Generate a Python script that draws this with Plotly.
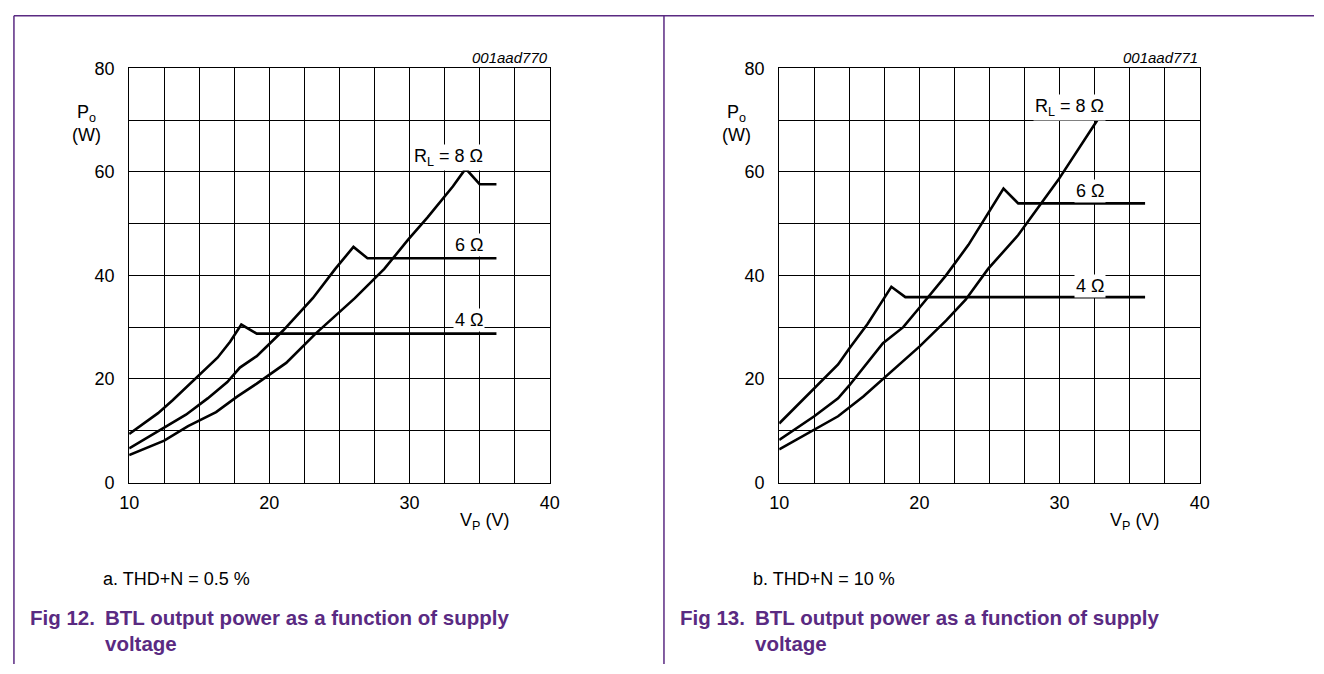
import plotly.graph_objects as go

# ---------------- data ----------------
# Fig 12: THD+N = 0.5 %
v4a = [10, 12.06, 13.1, 14.6, 16.3, 17.2, 18.0, 19.1, 36.2]
p4a = [9.4, 13.4, 15.9, 19.7, 24.1, 27.2, 30.5, 28.75, 28.75]
v6a = [10, 12.5, 14.05, 15.6, 17.0, 17.9, 19.1, 21.0, 23.1, 24.7, 26.0, 27.0, 36.2]
p6a = [6.6, 10.6, 13.1, 16.25, 19.4, 22.2, 24.4, 29.4, 35.6, 41.25, 45.5, 43.3, 43.3]
v8a = [10, 12.5, 14.2, 16.2, 17.7, 19.1, 21.2, 23.3, 26.1, 28.2, 29.9, 31.3, 33.1, 34.0, 35.0, 36.2]
p8a = [5.3, 8.1, 10.9, 13.6, 16.6, 19.1, 23.1, 28.75, 35.6, 41.25, 46.9, 51.25, 57.2, 60.6, 57.6, 57.6]

# Fig 13: THD+N = 10 %
v4b = [10, 12.5, 14.2, 15.0, 16.3, 17.2, 18.0, 19.0, 36.1]
p4b = [11.4, 18.1, 22.8, 25.9, 30.6, 34.4, 37.8, 35.8, 35.8]
v6b = [10, 12.5, 14.2, 15.0, 17.4, 18.85, 20.0, 21.9, 23.5, 24.9, 26.0, 27.05, 36.1]
p6b = [8.25, 12.8, 16.25, 18.75, 26.9, 30.0, 33.75, 40.0, 45.9, 51.9, 56.75, 53.9, 53.9]
v8b = [10, 12.5, 14.2, 16.0, 17.4, 20.0, 21.9, 23.3, 24.9, 27.05, 29.9, 32.7]
p8b = [6.4, 10.3, 12.8, 16.6, 20.0, 26.25, 31.25, 35.3, 41.25, 47.8, 58.4, 70.0]

x_ticks = [10, 20, 30, 40]
x_text = ["10", "20", "30", "40"]
x_minor_step = 2.5
y_ticks = [0, 20, 40, 60, 80]
y_text = ["0", "20", "40", "60", "80"]
y_minor_step = 10

codes = ["001aad770", "001aad771"]
subcaps = ["a. THD+N = 0.5 %", "b. THD+N = 10 %"]
fignums = ["Fig 12.", "Fig 13."]
figtitle = "BTL output power as a function of supply"
figtitle2 = "voltage"
lbl_a = [(35.37, 62.8, "R<sub>L</sub> = 8 Ω"), (35.37, 45.9, "6 Ω"), (35.37, 31.3, "4 Ω")]
lbl_b = [(33.33, 72.5, "R<sub>L</sub> = 8 Ω"), (33.33, 56.2, "6 Ω"), (33.33, 38.0, "4 Ω")]

# ---------------- layout constants ----------------
W, H = 1324, 674
FONT = "Liberation Sans, Arial, Helvetica, sans-serif"
PURPLE = "#5a2a82"
plot_left = [121, 781]
plot_w = 427
plot_top, plot_bot = 60, 487

def px(x):
    return x / W

def py(y):
    return 1 - y / H

fig = go.Figure()

series = [(v4a, p4a, v6a, p6a, v8a, p8a), (v4b, p4b, v6b, p6b, v8b, p8b)]
for i, s in enumerate(series):
    xa = "x" if i == 0 else "x2"
    ya = "y" if i == 0 else "y2"
    for k in range(3):
        fig.add_trace(go.Scatter(x=s[2 * k], y=s[2 * k + 1], mode="lines",
                                 line=dict(color="black", width=2.6),
                                 xaxis=xa, yaxis=ya, showlegend=False,
                                 hoverinfo="skip"))

axis_common = dict(showgrid=True, gridcolor="black", gridwidth=1,
                   showline=True, linecolor="black", linewidth=1, mirror=True,
                   zeroline=False, ticks="", fixedrange=True,
                   tickfont=dict(family=FONT, size=18, color="black"))

for i in range(2):
    xk = "xaxis" if i == 0 else "xaxis2"
    yk = "yaxis" if i == 0 else "yaxis2"
    xl = plot_left[i]
    fig.update_layout(**{
        xk: dict(axis_common, domain=[px(xl), px(xl + plot_w)], range=[10, 40],
                 tickmode="array", tickvals=x_ticks, ticktext=x_text,
                 minor=dict(tickmode="linear", tick0=10, dtick=x_minor_step,
                            showgrid=True, gridcolor="black", gridwidth=1, ticks=""),
                 anchor="y" if i == 0 else "y2", ticklabelstandoff=4),
        yk: dict(axis_common, domain=[py(plot_bot), py(plot_top)], range=[0, 80],
                 tickmode="array", tickvals=y_ticks, ticktext=y_text,
                 minor=dict(tickmode="linear", tick0=0, dtick=y_minor_step,
                            showgrid=True, gridcolor="black", gridwidth=1, ticks=""),
                 anchor="x" if i == 0 else "x2", ticklabelstandoff=10),
    })

annotations = []
shapes = []
for i in range(2):
    xl = plot_left[i]
    xr = "x" if i == 0 else "x2"
    yr = "y" if i == 0 else "y2"
    # code label
    annotations.append(dict(x=px(xl + plot_w), y=py(49), xref="paper", yref="paper",
                            text="<i>" + codes[i] + "</i>", showarrow=False,
                            xanchor="right", yanchor="middle",
                            font=dict(family=FONT, size=15, color="black")))
    # y-axis title
    annotations.append(dict(x=px(xl - 43), y=py(117), xref="paper", yref="paper",
                            text="P<sub>o</sub><br>(W)", showarrow=False,
                            xanchor="center", yanchor="middle", align="center",
                            font=dict(family=FONT, size=18, color="black")))
    # x-axis title
    annotations.append(dict(x=px(xl + 361), y=py(527), xref="paper", yref="paper",
                            text="V<sub>P</sub> (V)", showarrow=False,
                            xanchor="center", yanchor="middle",
                            font=dict(family=FONT, size=18, color="black")))
    # sub caption
    annotations.append(dict(x=px(xl - 29), y=py(586), xref="paper", yref="paper",
                            text=subcaps[i], showarrow=False,
                            xanchor="left", yanchor="middle",
                            font=dict(family=FONT, size=18, color="black")))
    # figure title
    annotations.append(dict(x=px(xl - 103), y=py(626), xref="paper", yref="paper",
                            text="<b>" + fignums[i] + "</b>", showarrow=False,
                            xanchor="left", yanchor="middle",
                            font=dict(family=FONT, size=20.5, color=PURPLE)))
    annotations.append(dict(x=px(xl - 27), y=py(626), xref="paper", yref="paper",
                            text="<b>" + figtitle + "</b>", showarrow=False,
                            xanchor="left", yanchor="middle",
                            font=dict(family=FONT, size=20.5, color=PURPLE)))
    annotations.append(dict(x=px(xl - 27), y=py(653), xref="paper", yref="paper",
                            text="<b>" + figtitle2 + "</b>", showarrow=False,
                            xanchor="left", yanchor="middle",
                            font=dict(family=FONT, size=20.5, color=PURPLE)))
    # curve labels
    for (lx, ly, lt) in (lbl_a if i == 0 else lbl_b):
        annotations.append(dict(x=lx, y=ly, xref=xr, yref=yr, text=lt,
                                showarrow=False, xanchor="right", yanchor="middle",
                                bgcolor="white", borderpad=1,
                                font=dict(family=FONT, size=18, color="black")))

# page frame lines
shapes.append(dict(type="line", xref="paper", yref="paper", x0=px(4), x1=1,
                   y0=py(6), y1=py(6), line=dict(color=PURPLE, width=1.5)))
shapes.append(dict(type="line", xref="paper", yref="paper", x0=px(4), x1=px(4),
                   y0=0, y1=py(6), line=dict(color=PURPLE, width=1.5)))
shapes.append(dict(type="line", xref="paper", yref="paper", x0=px(664), x1=px(664),
                   y0=0, y1=py(6), line=dict(color=PURPLE, width=1.5)))

# width/height are given through the div style (fixed at the page origin) so the
# browser's default body margin does not shift or rescale the figure
fig.update_layout(autosize=True, margin=dict(l=0, r=0, t=0, b=0),
                  paper_bgcolor="white", plot_bgcolor="white",
                  annotations=annotations, shapes=shapes, showlegend=False,
                  font=dict(family=FONT, color="black"))

fig.write_html("out.html", config={"displayModeBar": False, "responsive": True},
               default_width=f"{W}px;position:fixed;left:0;top:0",
               default_height=f"{H}px")
